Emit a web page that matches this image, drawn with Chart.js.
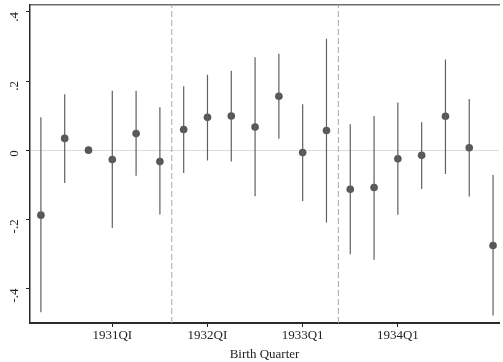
<!DOCTYPE html>
<html>
<head>
<meta charset="utf-8">
<script src="https://cdn.jsdelivr.net/npm/chart.js@4"></script>
<style>
  body { margin: 0; background: #fff; }
  canvas { display: block; }
</style>
</head>
<body>
<canvas id="chart" width="503" height="362"></canvas>
<script>
// quarter index of each estimate (0 = 1930Q2)
const quarters = [0, 1, 2, 3, 4, 5, 6, 7, 8, 9, 10, 11, 12, 13, 14, 15, 16, 17, 18, 19];
const estimates = [-0.188, 0.034, 0, -0.027, 0.048, -0.033, 0.060, 0.095, 0.099, 0.067,
  0.156, -0.007, 0.057, -0.113, -0.108, -0.025, -0.015, 0.098, 0.007, -0.276];
const ciHigh = [0.095, 0.162, null, 0.172, 0.172, 0.124, 0.185, 0.218, 0.230, 0.269,
  0.279, 0.133, 0.322, 0.075, 0.099, 0.138, 0.081, 0.262, 0.148, -0.072];
const ciLow = [-0.469, -0.095, null, -0.225, -0.074, -0.186, -0.066, -0.030, -0.033, -0.133,
  0.033, -0.147, -0.209, -0.301, -0.317, -0.187, -0.112, -0.069, -0.134, -0.478];

const xTickPos = [3, 7, 11, 15];
const xTickLabels = ["1931QI", "1932QI", "1933Q1", "1934Q1"];
const yTickPos = [-0.4, -0.2, 0, 0.2, 0.4];
const breakLines = [5.5, 12.5];

const Y_MIN = -0.5, Y_MAX = 0.42;

// error bars as one line with gaps
const ciData = [];
quarters.forEach((q, i) => {
  if (ciLow[i] === null) return;
  ciData.push({ x: q, y: ciLow[i] });
  ciData.push({ x: q, y: ciHigh[i] });
  ciData.push({ x: q, y: null });
});

const breakData = [];
breakLines.forEach(b => {
  breakData.push({ x: b, y: Y_MIN });
  breakData.push({ x: b, y: Y_MAX });
  breakData.push({ x: b, y: null });
});

const fmt = v => {
  if (Math.abs(v) < 1e-9) return "0";
  return String(Math.round(v * 10) / 10).replace("0.", ".");
};

const font = { family: "'Liberation Serif', serif", size: 13 };

new Chart(document.getElementById("chart"), {
  type: "scatter",
  data: {
    datasets: [
      {
        data: breakData,
        showLine: true,
        spanGaps: false,
        borderColor: "#a8a8a8",
        borderWidth: 1,
        borderDash: [6, 3],
        pointRadius: 0,
      },
      {
        data: ciData,
        showLine: true,
        spanGaps: false,
        borderColor: "#606060",
        borderWidth: 1.2,
        pointRadius: 0,
      },
      {
        data: quarters.map((q, i) => ({ x: q, y: estimates[i] })),
        pointRadius: 3.8,
        pointBackgroundColor: "#575757",
        pointBorderWidth: 0,
      },
    ],
  },
  options: {
    responsive: false,
    animation: false,
    layout: { padding: { top: 5, right: 0, left: 0, bottom: 0 } },
    plugins: { legend: { display: false }, tooltip: { enabled: false } },
    scales: {
      x: {
        type: "linear",
        min: -0.458,
        max: 19.25,
        afterBuildTicks: s => { s.ticks = xTickPos.map(v => ({ value: v })); },
        ticks: {
          callback: v => xTickLabels[xTickPos.indexOf(v)],
          color: "#222",
          font: font,
          padding: 1,
          maxRotation: 0,
        },
        grid: { color: "transparent", tickColor: "#222", tickLength: 4 },
        border: { color: "#2a2a2a", width: 2 },
        title: { display: true, text: "Birth Quarter", color: "#222", font: font, padding: { top: -6, bottom: 0 } },
        afterFit: s => { s.height = 39; s.paddingLeft = 0; s.paddingRight = 0; },
      },
      xTop: {
        type: "linear",
        position: "top",
        min: -0.458,
        max: 19.25,
        ticks: { display: false },
        grid: { display: false, drawTicks: false },
        border: { color: "#6e6e6e", width: 1.5 },
        afterFit: s => { s.height = 0; s.paddingLeft = 0; s.paddingRight = 0; },
      },
      y: {
        min: Y_MIN,
        max: Y_MAX,
        afterBuildTicks: s => { s.ticks = yTickPos.map(v => ({ value: v })); },
        ticks: {
          callback: v => fmt(v),
          color: "#222",
          font: font,
          minRotation: 90,
          maxRotation: 90,
          padding: 11,
        },
        grid: {
          color: c => (c.tick && Math.abs(c.tick.value) < 1e-9 ? "#dcdcdc" : "transparent"),
          tickColor: "#222",
          tickLength: 4,
        },
        border: { color: "#2a2a2a", width: 1.5 },
        afterFit: s => { s.width = 30; s.paddingTop = 0; s.paddingBottom = 0; },
      },
    },
  },
});
</script>
</body>
</html>
